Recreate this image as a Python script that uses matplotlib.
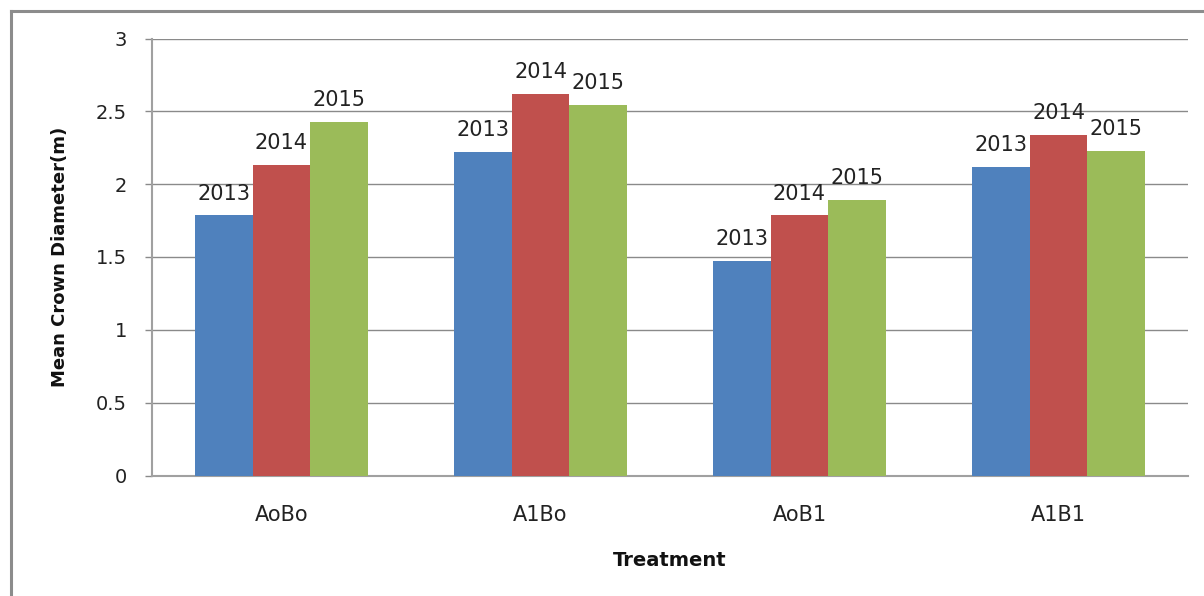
import matplotlib
matplotlib.use("Agg")
import matplotlib.pyplot as plt
from matplotlib.lines import Line2D
import numpy as np

categories = ["AoBo", "A1Bo", "AoB1", "A1B1"]
years = ["2013", "2014", "2015"]
values_2013 = [1.785, 2.22, 1.47, 2.12]
values_2014 = [2.13, 2.62, 1.785, 2.34]
values_2015 = [2.43, 2.545, 1.89, 2.225]
series = [values_2013, values_2014, values_2015]
colors = ["#4F81BD", "#C0504D", "#9BBB59"]
yticks = [0, 0.5, 1, 1.5, 2, 2.5, 3]
ytick_labels = ["0", "0.5", "1", "1.5", "2", "2.5", "3"]

plt.rcParams['font.family'] = ['DejaVu Sans']

W, H = 1204, 596
fig = plt.figure(figsize=(W / 100, H / 100), dpi=100)
fig.patch.set_facecolor("white")

left, right, top, bottom = 152, 1188, 38.5, 475.5
ax = fig.add_axes([left / W, 1 - bottom / H, (right - left) / W, (bottom - top) / H])

x = np.arange(len(categories))
bw = 1 / 4.5
for i, (vals, col, yr) in enumerate(zip(series, colors, years)):
    xs = x + (i - 1) * bw
    ax.bar(xs, vals, width=bw, color=col, edgecolor="none", zorder=3)
    for xi, v in zip(xs, vals):
        ax.annotate(yr, (xi, v), xytext=(0, 11.5), textcoords="offset points",
                    ha="center", va="baseline", fontsize=15, color="#222222", zorder=4)

ax.set_xlim(-0.5, len(categories) - 0.5)
ax.set_ylim(0, 3)
ax.set_yticks(yticks)
ax.set_yticklabels(ytick_labels)
ax.set_xticks(x)
ax.set_xticklabels(categories)

ax.grid(axis="y", color="#8a8a8a", linewidth=1.0, zorder=0)
ax.set_axisbelow(True)
for s in ["top", "right"]:
    ax.spines[s].set_visible(False)
ax.spines["left"].set_color("#a0a0a0")
ax.spines["left"].set_linewidth(1.5)
ax.spines["bottom"].set_color("#a0a0a0")
ax.spines["bottom"].set_linewidth(1.5)

ax.tick_params(axis="y", length=5, width=1, color="#8a8a8a", pad=13,
               labelsize=14, labelcolor="#222222")
ax.tick_params(axis="x", length=0, pad=21, labelsize=15, labelcolor="#222222")

fig.text(670 / W, 1 - 560 / H, "Treatment", ha="center", va="center",
         fontsize=14, fontweight="bold", color="#111111")
fig.text(60 / W, 1 - 257 / H, "Mean Crown Diameter(m)", ha="center", va="center",
         rotation=90, fontsize=13, fontweight="bold", color="#111111")

# chart-area border (top and left edges visible)
fig.add_artist(Line2D([11 / W, 1], [1 - 11 / H, 1 - 11 / H], transform=fig.transFigure,
                      color="#8c8c8c", linewidth=2.2))
fig.add_artist(Line2D([11 / W, 11 / W], [0, 1 - 11 / H], transform=fig.transFigure,
                      color="#8c8c8c", linewidth=2.2))

fig.savefig("out.png", dpi=100)
